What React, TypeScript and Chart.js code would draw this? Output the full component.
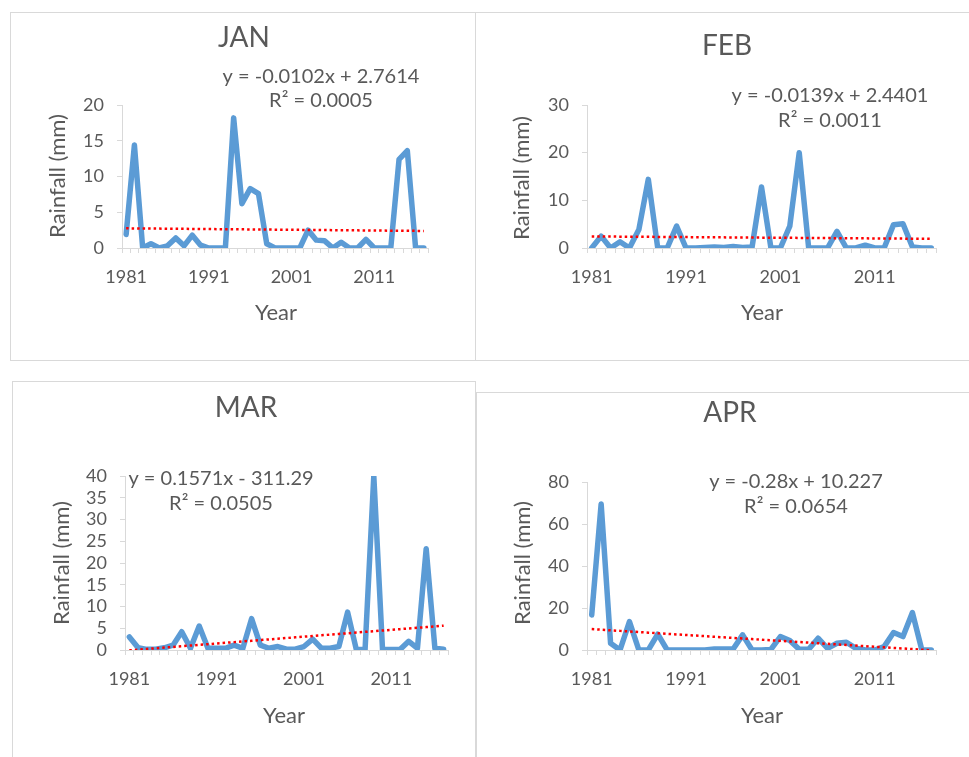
import React, { useEffect, useRef } from 'react';
import { Chart, registerables } from 'chart.js';

Chart.register(...registerables);

// ---------------- data ----------------
const YEARS = [
  '1981', '1982', '1983', '1984', '1985', '1986', '1987', '1988', '1989', '1990',
  '1991', '1992', '1993', '1994', '1995', '1996', '1997', '1998', '1999', '2000',
  '2001', '2002', '2003', '2004', '2005', '2006', '2007', '2008', '2009', '2010',
  '2011', '2012', '2013', '2014', '2015', '2016', '2017',
];

const JAN_RAIN = [
  1.9, 14.4, 0, 0.6, 0, 0.3, 1.4, 0.3, 1.8, 0.4,
  0, 0, 0, 18.2, 6.2, 8.3, 7.6, 0.6, 0, 0,
  0, 0, 2.5, 1.1, 1.0, 0, 0.8, 0, 0, 1.2,
  0, 0, 0, 12.4, 13.6, 0, 0,
];
const FEB_RAIN = [
  0, 2.5, 0, 1.3, 0, 3.9, 14.4, 0, 0, 4.6,
  0, 0, 0.1, 0.2, 0.1, 0.3, 0.1, 0.2, 12.8, 0,
  0, 4.6, 20.0, 0, 0, 0, 3.5, 0, 0, 0.6,
  0, 0, 4.9, 5.1, 0.2, 0, 0,
];
const MAR_RAIN = [
  3.0, 0.5, 0.15, 0.2, 0.5, 1.1, 4.2, 0.4, 5.5, 0.4,
  0.4, 0.4, 1.1, 0.4, 7.2, 1.1, 0.4, 0.8, 0.2, 0.2,
  0.8, 2.5, 0.4, 0.4, 0.8, 8.7, 0.1, 0.1, 40.0, 0.1,
  0.1, 0.1, 2.0, 0.4, 23.3, 0.4, 0.2,
];
const APR_RAIN = [
  16.7, 69.5, 3.2, 0, 13.5, 0, 0, 7.6, 0, 0,
  0, 0, 0, 0.5, 0.5, 0.5, 7.2, 0, 0, 0.3,
  6.4, 4.5, 0.3, 0.3, 5.6, 0.8, 3.2, 3.7, 0.8, 0,
  0, 1.6, 8.3, 6.4, 17.8, 0, 0,
];

// trendline coefficients as shown in the equations
const JAN_TREND = [-0.0102, 2.7614];
const FEB_TREND = [-0.0139, 2.4401];
const MAR_TREND = [0.1571, -311.29];
const APR_TREND = [-0.28, 10.227];

const JAN_Y_TICKS = [0, 20, 5];
const FEB_Y_TICKS = [0, 30, 10];
const MAR_Y_TICKS = [0, 40, 5];
const APR_Y_TICKS = [0, 80, 20];

// ---------------- styles ----------------
const TEXT = '#595959';
const AXIS = '#d9d9d9';
const LINE = '#5b9bd5';
const TREND = '#ff0000';
const FONT = 'Lato, "Open Sans", sans-serif';

type Box = { left: number; top: number; width: number; height: number };
type Plot = { left: number; right: number; top: number; bottom: number };
type Panel = {
  name: string;
  data: number[];
  trend: number[];
  trendByYear: boolean;
  yTicks: number[];
  eq1: string;
  eq2: string;
  box: Box;
  plot: Plot;
  titleAt: [number, number];
  eqAt: [number, number, number];
  yTitleAt: [number, number];
  xTitleAt: [number, number];
};

const PANELS: Panel[] = [
  {
    name: 'JAN', data: JAN_RAIN, trend: JAN_TREND, trendByYear: false, yTicks: JAN_Y_TICKS,
    eq1: 'y = -0.0102x + 2.7614', eq2: 'R² = 0.0005',
    box: { left: 10, top: 12, width: 466, height: 349 },
    plot: { left: 122, right: 428, top: 105, bottom: 248 },
    titleAt: [244, 38], eqAt: [321, 77, 101], yTitleAt: [58, 176], xTitleAt: [276, 313],
  },
  {
    name: 'FEB', data: FEB_RAIN, trend: FEB_TREND, trendByYear: false, yTicks: FEB_Y_TICKS,
    eq1: 'y = -0.0139x + 2.4401', eq2: 'R² = 0.0011',
    box: { left: 475, top: 12, width: 520, height: 349 },
    plot: { left: 587, right: 936, top: 105, bottom: 248 },
    titleAt: [727, 46], eqAt: [830, 96, 121], yTitleAt: [522, 178], xTitleAt: [762, 313],
  },
  {
    name: 'MAR', data: MAR_RAIN, trend: MAR_TREND, trendByYear: true, yTicks: MAR_Y_TICKS,
    eq1: 'y = 0.1571x - 311.29', eq2: 'R² = 0.0505',
    box: { left: 12, top: 381, width: 464, height: 400 },
    plot: { left: 125, right: 448, top: 476, bottom: 650 },
    titleAt: [246, 408], eqAt: [221, 479, 504], yTitleAt: [62, 563], xTitleAt: [284, 716],
  },
  {
    name: 'APR', data: APR_RAIN, trend: APR_TREND, trendByYear: false, yTicks: APR_Y_TICKS,
    eq1: 'y = -0.28x + 10.227', eq2: 'R² = 0.0654',
    box: { left: 476, top: 392, width: 520, height: 400 },
    plot: { left: 587, right: 936, top: 482, bottom: 650 },
    titleAt: [730, 413], eqAt: [796, 482, 507], yTitleAt: [523, 563], xTitleAt: [762, 716],
  },
];

function PanelChart({ p }: { p: Panel }) {
  const ref = useRef<HTMLCanvasElement | null>(null);

  useEffect(() => {
    const canvas = ref.current;
    if (!canvas) return;
    const bx = p.box.left;
    const by = p.box.top;
    const trendValues = YEARS.map((y, i) => {
      const x = p.trendByYear ? Number(y) : i + 1;
      return p.trend[0] * x + p.trend[1];
    });

    const decor = {
      id: 'decor-' + p.name,
      afterDraw(chart: any) {
        const ctx = chart.ctx as CanvasRenderingContext2D;
        ctx.save();
        ctx.strokeStyle = AXIS;
        ctx.lineWidth = 1;
        ctx.strokeRect(0.5, 0.5, p.box.width - 1, p.box.height - 1);
        ctx.fillStyle = TEXT;
        ctx.textAlign = 'center';
        ctx.textBaseline = 'middle';
        ctx.font = `28px ${FONT}`;
        ctx.fillText(p.name, p.titleAt[0] - bx, p.titleAt[1] - by);
        ctx.font = `20px ${FONT}`;
        ctx.fillText(p.eq1, p.eqAt[0] - bx, p.eqAt[1] - by);
        ctx.fillText(p.eq2, p.eqAt[0] - bx, p.eqAt[2] - by);
        ctx.font = `22px ${FONT}`;
        ctx.fillText('Year', p.xTitleAt[0] - bx, p.xTitleAt[1] - by);
        ctx.translate(p.yTitleAt[0] - bx, p.yTitleAt[1] - by);
        ctx.rotate(-Math.PI / 2);
        ctx.fillText('Rainfall (mm)', 0, 0);
        ctx.restore();
      },
    };

    const chart = new Chart(canvas, {
      type: 'line',
      data: {
        labels: YEARS,
        datasets: [
          {
            data: trendValues,
            borderColor: TREND,
            borderWidth: 2.5,
            borderDash: [2.5, 3],
            pointRadius: 0,
            fill: false,
            tension: 0,
            order: 0,
          },
          {
            data: p.data,
            borderColor: LINE,
            borderWidth: 5.5,
            borderJoinStyle: 'round',
            borderCapStyle: 'round',
            pointRadius: 0,
            fill: false,
            tension: 0,
            order: 1,
          },
        ],
      },
      options: {
        responsive: false,
        animation: false,
        devicePixelRatio: 1,
        layout: {
          padding: {
            left: 0,
            top: p.plot.top - by,
            right: p.box.width - (p.plot.right - bx),
            bottom: 0,
          },
        },
        plugins: {
          legend: { display: false },
          title: { display: false },
          tooltip: { enabled: false },
        },
        scales: {
          x: {
            type: 'category',
            offset: true,
            grid: { offset: true, drawOnChartArea: false, drawTicks: true, tickLength: 5, color: AXIS },
            border: { color: AXIS, width: 1 },
            ticks: {
              autoSkip: false,
              maxRotation: 0,
              minRotation: 0,
              padding: 13,
              color: TEXT,
              font: { family: FONT, size: 18 },
              callback: (_v: any, i: number) => (i % 10 === 0 ? YEARS[i] : ''),
            },
            afterFit: (s: any) => {
              s.height = p.box.height - (p.plot.bottom - by);
            },
          },
          y: {
            min: p.yTicks[0],
            max: p.yTicks[1],
            grid: { drawOnChartArea: false, drawTicks: true, tickLength: 5, color: AXIS },
            border: { color: AXIS, width: 1 },
            ticks: {
              stepSize: p.yTicks[2],
              autoSkip: false,
              padding: 13,
              color: TEXT,
              font: { family: FONT, size: 18 },
            },
            afterFit: (s: any) => {
              s.width = p.plot.left - bx;
            },
          },
        },
      },
      plugins: [decor],
    } as any);
    return () => chart.destroy();
  }, [p]);

  return (
    <canvas
      ref={ref}
      width={p.box.width}
      height={p.box.height}
      style={{
        position: 'absolute',
        left: p.box.left,
        top: p.box.top,
        width: p.box.width,
        height: p.box.height,
      }}
    />
  );
}

export default function App() {
  return (
    <div
      style={{
        position: 'absolute',
        left: 0,
        top: 0,
        width: 969,
        height: 757,
        overflow: 'hidden',
        background: '#ffffff',
      }}
    >
      {PANELS.map((p) => (
        <PanelChart key={p.name} p={p} />
      ))}
    </div>
  );
}
